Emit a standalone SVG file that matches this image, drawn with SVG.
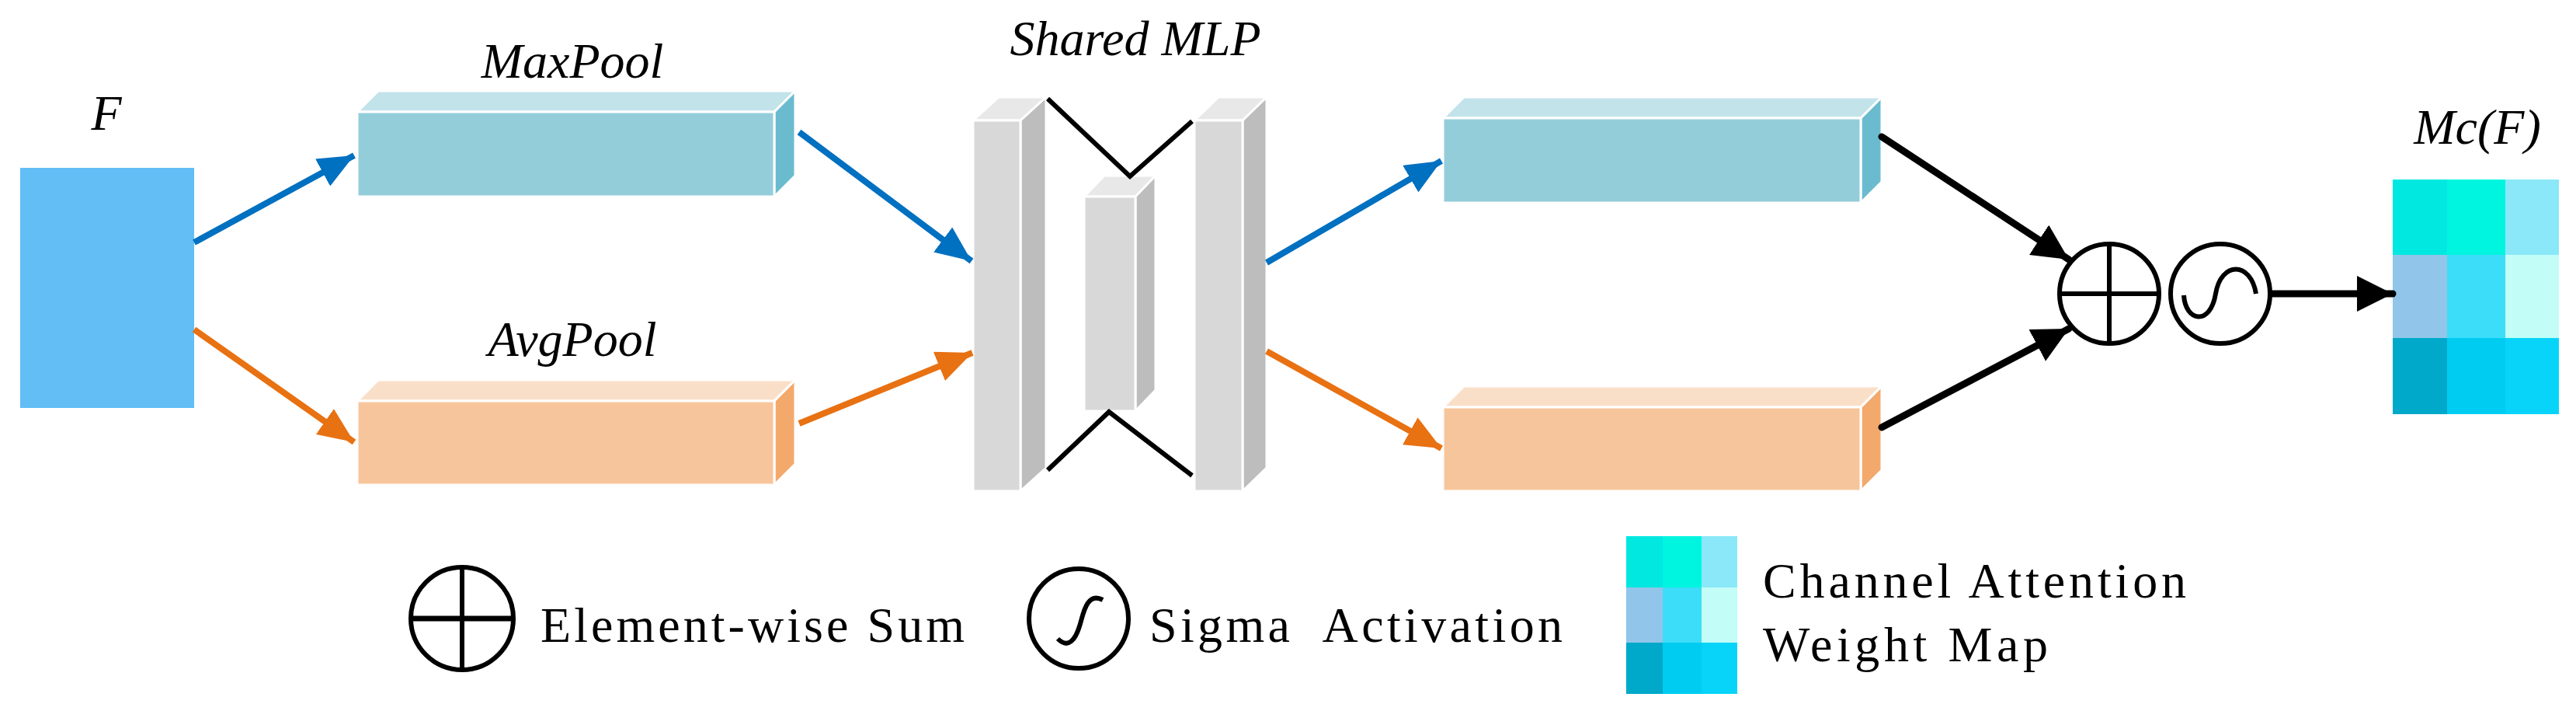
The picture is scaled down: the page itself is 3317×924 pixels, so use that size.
<svg xmlns="http://www.w3.org/2000/svg" width="3317" height="924" viewBox="0 0 3317 924">
<style>
.lbl{font-family:"Liberation Serif","DejaVu Serif",serif;font-style:italic;font-size:64px;fill:#000}
.leg{font-family:"Liberation Serif","DejaVu Serif",serif;font-size:64px;fill:#000}
.b{stroke:#fff;stroke-width:3}
.blue{stroke:#0070C0;stroke-width:8;fill:none}
.orange{stroke:#E87112;stroke-width:8;fill:none}
.blk{stroke:#000;stroke-width:9;fill:none;stroke-linecap:round}
.sym{stroke:#000;stroke-width:6;fill:none}
</style>
<defs>
<marker id="ab" markerUnits="userSpaceOnUse" markerWidth="48" markerHeight="40" refX="46" refY="20" orient="auto"><path d="M0,0 L46,20 L0,40 Z" fill="#0070C0"/></marker>
<marker id="ao" markerUnits="userSpaceOnUse" markerWidth="48" markerHeight="40" refX="46" refY="20" orient="auto"><path d="M0,0 L46,20 L0,40 Z" fill="#E87112"/></marker>
<marker id="ak" markerUnits="userSpaceOnUse" markerWidth="48" markerHeight="46" refX="46" refY="23" orient="auto"><path d="M0,0 L46,23 L0,46 Z" fill="#000"/></marker>
</defs>
<g id="F"><rect x="26" y="216" width="224" height="309" fill="#62BEF5"/><text class="lbl" x="137" y="167" text-anchor="middle">F</text></g>
<g id="maxpool" class="b">
<polygon points="460,144 487,117 1024,117 997,144" fill="#C2E3EA"/>
<polygon points="997,144 1024,117 1024,226 997,253" fill="#6BBBCF"/>
<rect x="460" y="144" width="537" height="109" fill="#94CDDA"/>
<text class="lbl" x="737" y="100" text-anchor="middle" stroke="none">MaxPool</text></g>
<g id="avgpool" class="b">
<polygon points="460,516 487,489 1024,489 997,516" fill="#FADFC8"/>
<polygon points="997,516 1024,489 1024,597 997,624" fill="#F3A96C"/>
<rect x="460" y="516" width="537" height="108" fill="#F7C59B"/>
<text class="lbl" x="737" y="458" text-anchor="middle" stroke="none">AvgPool</text></g>
<g id="mlp" class="b">
<text class="lbl" x="1462" y="71" text-anchor="middle" stroke="none">Shared MLP</text>
<polygon points="1253,155 1286,125 1347,125 1314,155" fill="#E8E8E8"/>
<polygon points="1314,155 1347,125 1347,602 1314,632" fill="#BDBDBD"/>
<rect x="1253" y="155" width="61" height="477" fill="#D8D8D8"/>
<polygon points="1396,253 1422,226 1488,226 1462,253" fill="#E8E8E8"/>
<polygon points="1462,253 1488,226 1488,502 1462,529" fill="#BDBDBD"/>
<rect x="1396" y="253" width="66" height="276" fill="#D8D8D8"/>
<polygon points="1538,155 1569,125 1631,125 1600,155" fill="#E8E8E8"/>
<polygon points="1600,155 1631,125 1631,602 1600,632" fill="#BDBDBD"/>
<rect x="1538" y="155" width="62" height="477" fill="#D8D8D8"/>
<polyline points="1349,127 1455,227 1535,156" fill="none" stroke="#000" stroke-width="6"/>
<polyline points="1349,605 1428,530 1535,612" fill="none" stroke="#000" stroke-width="6"/>
</g>
<g id="outmax" class="b">
<polygon points="1858,152 1885,125 2423,125 2396,152" fill="#C2E3EA"/>
<polygon points="2396,152 2423,125 2423,234 2396,261" fill="#6BBBCF"/>
<rect x="1858" y="152" width="538" height="109" fill="#94CDDA"/></g>
<g id="outavg" class="b">
<polygon points="1858,524 1885,497 2423,497 2396,524" fill="#FADFC8"/>
<polygon points="2396,524 2423,497 2423,605 2396,632" fill="#F3A96C"/>
<rect x="1858" y="524" width="538" height="108" fill="#F7C59B"/></g>
<g id="sum"><circle cx="2716" cy="378" r="64" class="sym"/><line x1="2652" y1="378" x2="2780" y2="378" class="sym"/><line x1="2716" y1="314" x2="2716" y2="442" class="sym"/></g>
<g id="sigma"><circle cx="2859" cy="378" r="64" class="sym"/><path d="M2812,380 C2814,414 2846,420 2853,378 C2860,336 2898,336 2905,378" class="sym" stroke-width="5"/></g>
<g id="mcf">
<text class="lbl" x="3190" y="185" text-anchor="middle">Mc(F)</text>
<rect x="3081" y="231" width="70" height="97" fill="#00E8E0"/><rect x="3151" y="231" width="75" height="97" fill="#00F5E0"/><rect x="3226" y="231" width="69" height="97" fill="#8AE8F8"/>
<rect x="3081" y="328" width="70" height="107" fill="#92C5EA"/><rect x="3151" y="328" width="75" height="107" fill="#3CDDF8"/><rect x="3226" y="328" width="69" height="107" fill="#C2FDF8"/>
<rect x="3081" y="435" width="70" height="98" fill="#00A9C9"/><rect x="3151" y="435" width="75" height="98" fill="#00CCF2"/><rect x="3226" y="435" width="69" height="98" fill="#08D4FA"/>
</g>
<g id="connectors">
<line x1="250" y1="312" x2="456" y2="200" class="blue" marker-end="url(#ab)"/>
<line x1="250" y1="424" x2="456" y2="569" class="orange" marker-end="url(#ao)"/>
<line x1="1029" y1="170" x2="1251" y2="336" class="blue" marker-end="url(#ab)"/>
<line x1="1029" y1="545" x2="1252" y2="454" class="orange" marker-end="url(#ao)"/>
<line x1="1631" y1="338" x2="1856" y2="207" class="blue" marker-end="url(#ab)"/>
<line x1="1631" y1="452" x2="1856" y2="577" class="orange" marker-end="url(#ao)"/>
<line x1="2423" y1="176" x2="2664" y2="334" class="blk" marker-end="url(#ak)"/>
<line x1="2423" y1="550" x2="2664" y2="423" class="blk" marker-end="url(#ak)"/>
<line x1="2925" y1="378" x2="3081" y2="378" class="blk" marker-end="url(#ak)"/>
</g>
<g id="legend">
<circle cx="595" cy="796" r="66" class="sym"/><line x1="529" y1="796" x2="661" y2="796" stroke="#000" stroke-width="7"/><line x1="595" y1="730" x2="595" y2="862" class="sym"/>
<text class="leg" x="696" y="826" textLength="546">Element-wise Sum</text>
<circle cx="1389" cy="796" r="64" class="sym"/><path d="M1420,772 C1398,760 1394,795 1390,806 C1385,822 1376,836 1362,822" class="sym" stroke-width="5"/>
<text class="leg" x="1480" y="826" textLength="532" xml:space="preserve">Sigma  Activation</text>
<rect x="2094" y="690" width="47" height="66" fill="#00E8E0"/><rect x="2141" y="690" width="50" height="66" fill="#00F5E0"/><rect x="2191" y="690" width="46" height="66" fill="#8AE8F8"/>
<rect x="2094" y="756" width="47" height="71" fill="#92C5EA"/><rect x="2141" y="756" width="50" height="71" fill="#3CDDF8"/><rect x="2191" y="756" width="46" height="71" fill="#C2FDF8"/>
<rect x="2094" y="827" width="47" height="66" fill="#00A9C9"/><rect x="2141" y="827" width="50" height="66" fill="#00CCF2"/><rect x="2191" y="827" width="46" height="66" fill="#08D4FA"/>
<text class="leg" x="2270" y="769" textLength="545">Channel Attention</text>
<text class="leg" x="2270" y="851" textLength="367">Weight Map</text>
</g>
</svg>
